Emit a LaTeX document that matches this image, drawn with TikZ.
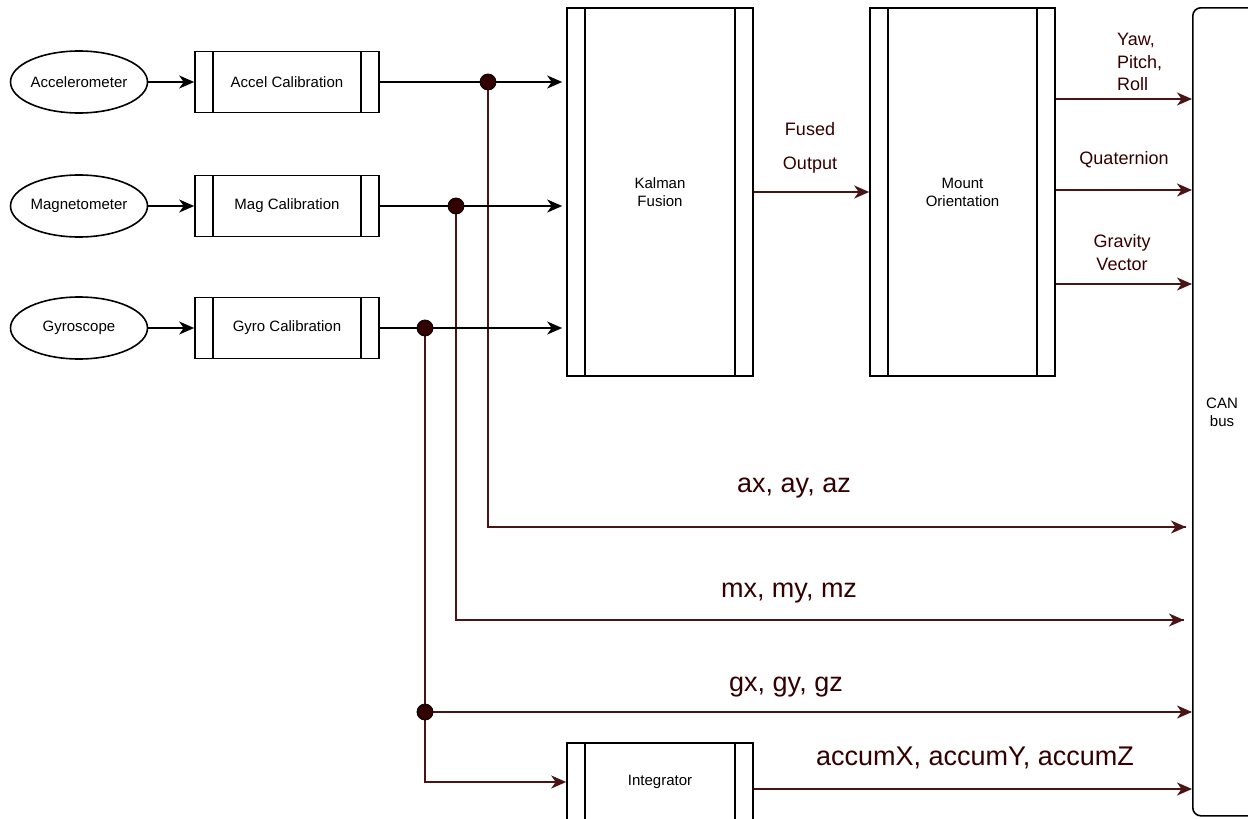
\documentclass[tikz,border=0pt]{standalone}
\usepackage{fontspec}
\setmainfont{Liberation Sans}
\usetikzlibrary{arrows.meta,shapes.geometric}
\definecolor{brn}{HTML}{330000}
\definecolor{brnline}{HTML}{4A1414}
\begin{document}
\begin{tikzpicture}[x=1pt,y=-1pt,
  fs/.style={font=\fontsize{15}{18}\selectfont},
  lbl/.style={text=brn,font=\fontsize{18}{22.5}\selectfont,align=center,inner sep=0pt},
  biglbl/.style={text=brn,font=\fontsize{27}{32}\selectfont,inner sep=0pt,anchor=base},
  sensor/.style={ellipse,draw,line width=1.6pt,minimum width=137pt,minimum height=62pt,inner sep=0pt,fs},
  procbox/.style={rectangle,draw,line width=1.6pt,inner sep=0pt,align=center,fs,
    path picture={
      \draw[line width=1.6pt] ([xshift=18pt]path picture bounding box.north west) -- ([xshift=18pt]path picture bounding box.south west);
      \draw[line width=1.6pt] ([xshift=-18pt]path picture bounding box.north east) -- ([xshift=-18pt]path picture bounding box.south east);}},
  arr/.style={-{Stealth[length=15pt,width=13pt,inset=4.5pt]}},
  bline/.style={draw=black,line width=1.8pt,arr},
  oline/.style={draw=brnline,line width=1.8pt,arr},
  tline/.style={draw=brnline,line width=1.4pt},
  dot/.style={circle,fill=brn,draw=black,line width=0.8pt,minimum size=16pt,inner sep=0pt}
]
\useasboundingbox (0,0) rectangle (1248,819);
\clip (0,0) rectangle (1248,819);

% sensors
\node[sensor] (accel) at (79,82) {Accelerometer};
\node[sensor] (mag) at (79,206) {Magnetometer};
\node[sensor] (gyro) at (79,328) {Gyroscope};

% calibration boxes
\node[procbox,minimum width=184pt,minimum height=61pt] (acal) at (287,82) {Accel Calibration};
\node[procbox,minimum width=184pt,minimum height=61pt] (mcal) at (287,206) {Mag Calibration};
\node[procbox,minimum width=184pt,minimum height=61pt] (gcal) at (287,328) {Gyro Calibration};

% main blocks
\node[procbox,minimum width=186pt,minimum height=368pt] (kal) at (660,192) {Kalman\\Fusion};
\node[procbox,minimum width=185pt,minimum height=368pt] (mount) at (962.5,192) {Mount\\Orientation};
\node[procbox,minimum width=186pt,minimum height=78pt] (integ) at (660,782) {Integrator};

% CAN bus
\node[draw,line width=1.6pt,rounded corners=8pt,minimum width=100pt,minimum height=808pt,anchor=north west,inner sep=0pt] (can) at (1192,7) {};
\node[fs,align=center,inner sep=0pt] (canlbl) at (1222,412) {CAN\\bus};

% junction coordinates
\coordinate (ja) at (488,82);
\coordinate (jm) at (456,206);
\coordinate (jg) at (425,328);
\coordinate (jg2) at (425,712);
\coordinate (ea) at (1186,527);
\coordinate (em) at (1184,620);
\coordinate (yawc) at (0,99);
\coordinate (quatc) at (0,190);
\coordinate (gravc) at (0,284);
\coordinate (accc) at (0,789);

% sensor -> calibration
\draw[bline] (accel) -- (acal);
\draw[bline] (mag) -- (mcal);
\draw[bline] (gyro) -- (gcal);

% branch lines
\draw[tline] (ja) |- (ea);
\draw[oline] ([xshift=-1pt]ea) -- (ea);
\draw[tline] (jm) |- (em);
\draw[oline] ([xshift=-1pt]em) -- (em);
\draw[tline] (jg) -- (jg2);
\draw[oline] (jg2) -- (can.west |- jg2);
\draw[oline] (jg2) |- (integ.west);

% calibration -> Kalman
\draw[bline,shorten >=4pt] (acal.east) -- (acal.east -| kal.west);
\draw[bline,shorten >=4pt] (mcal.east) -- (mcal.east -| kal.west);
\draw[bline,shorten >=4pt] (gcal.east) -- (gcal.east -| kal.west);

% Kalman -> Mount
\draw[oline] (kal.east) -- (mount.west);
\node[lbl,font=\fontsize{18}{34}\selectfont] (fused) at (810,148) {Fused\\Output};

% Mount -> CAN
\draw[oline] (mount.east |- yawc) -- (can.west |- yawc);
\draw[oline] (mount.east |- quatc) -- (can.west |- quatc);
\draw[oline] (mount.east |- gravc) -- (can.west |- gravc);
\node[lbl,align=left,anchor=west] (yawlbl) at (1117,62) {Yaw,\\Pitch,\\Roll};
\node[lbl] (quatlbl) at (1124,160) {Quaternion};
\node[lbl,font=\fontsize{18}{23}\selectfont] (gravlbl) at (1122,253) {Gravity\\Vector};

% Integrator -> CAN
\draw[oline] (integ.east |- accc) -- (can.west |- accc);

% big labels
\node[biglbl] (axl) at (794,492) {ax, ay, az};
\node[biglbl] (mxl) at (789,597) {mx, my, mz};
\node[biglbl] (gxl) at (786,691) {gx, gy, gz};
\node[biglbl] (accl) at (975,765) {accumX, accumY, accumZ};

% junction dots
\node[dot] (da) at (ja) {};
\node[dot] (dm) at (jm) {};
\node[dot] (dg) at (jg) {};
\node[dot] (dg2) at (jg2) {};
\end{tikzpicture}
\end{document}
